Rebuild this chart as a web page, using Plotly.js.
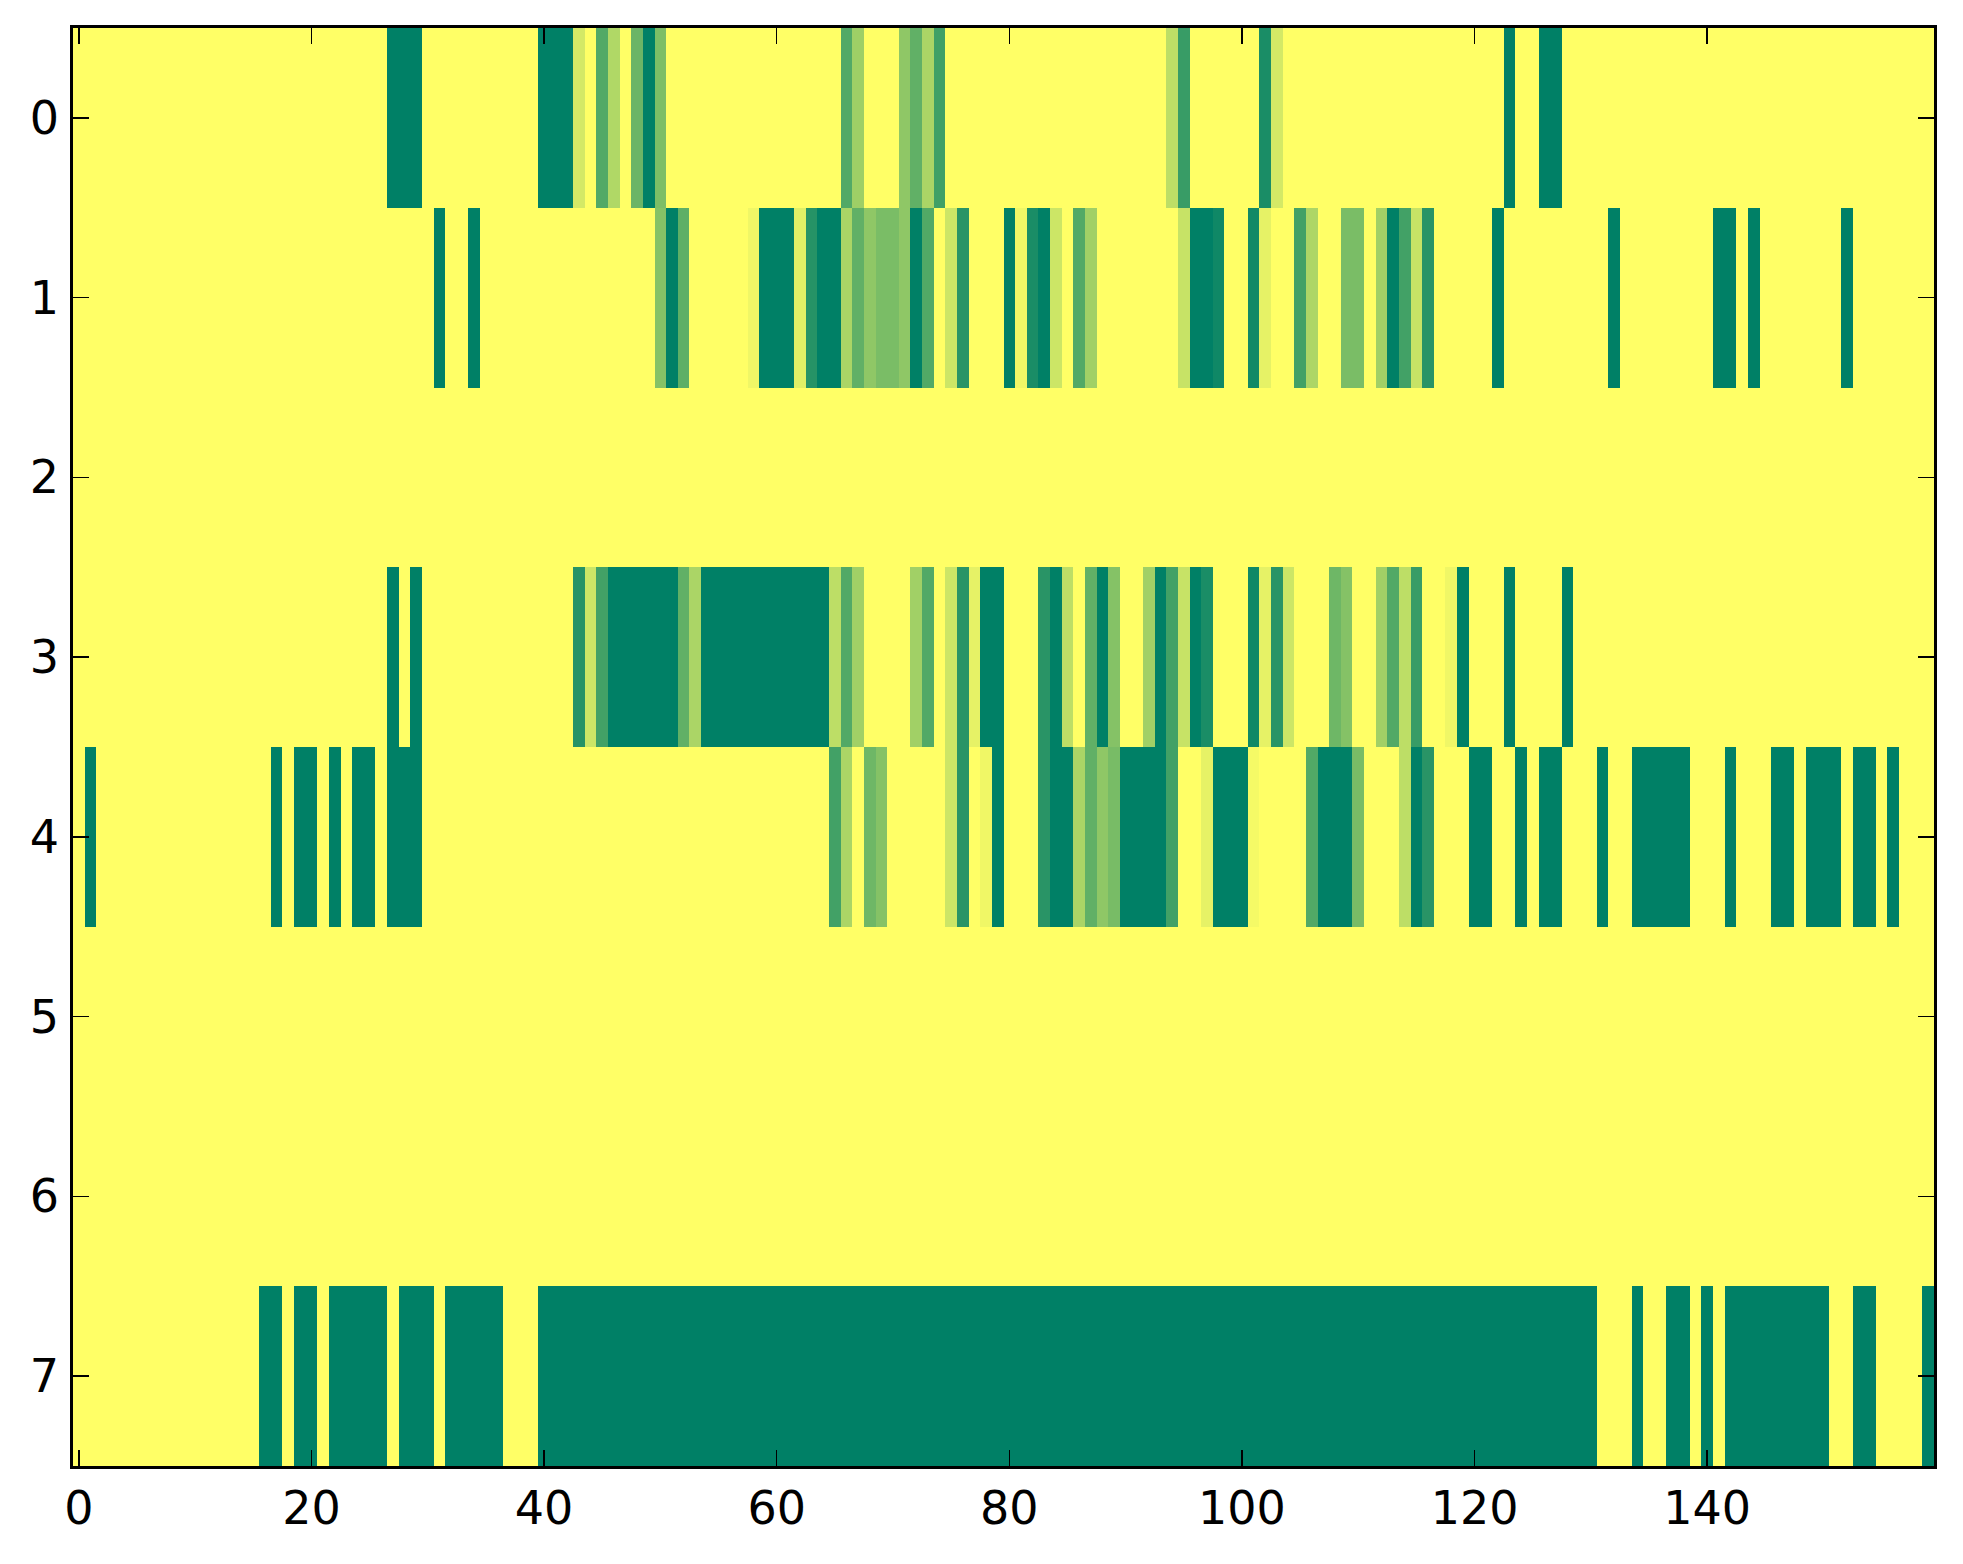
<!DOCTYPE html>
<html>
<head>
<meta charset="utf-8">
<script src="https://cdn.plot.ly/plotly-3.0.1.min.js"></script>
<style>
  html, body { margin: 0; padding: 0; background: #ffffff; }
  #chart { width: 1963px; height: 1564px; }
</style>
</head>
<body>
<div id="chart"></div>
<script>
// Row values (0 = dark green, 1 = yellow), 160 columns each
const row0 = [
  1,1,1,1,1,1,1,1,1,1,
  1,1,1,1,1,1,1,1,1,1,
  1,1,1,1,1,1,1,0,0,0,
  1,1,1,1,1,1,1,1,1,1,
  0,0,0,0.83,1,0.32,0.69,1,0.42,0,
  0.49,1,1,1,1,1,1,1,1,1,
  1,1,1,1,1,1,0.32,0.62,1,1,
  1,0.56,0.38,0.67,0.25,1,1,1,1,1,
  1,1,1,1,1,1,1,1,1,1,
  1,1,1,1,0.74,0.22,1,1,1,1,
  1,1,0.1,0.83,1,1,1,1,1,1,
  1,1,1,1,1,1,1,1,1,1,
  1,1,1,0,1,1,0,0,1,1,
  1,1,1,1,1,1,1,1,1,1,
  1,1,1,1,1,1,1,1,1,1,
  1,1,1,1,1,1,1,1,1,1
];
const row1 = [
  1,1,1,1,1,1,1,1,1,1,
  1,1,1,1,1,1,1,1,1,1,
  1,1,1,1,1,1,1,1,1,1,
  1,0,1,1,0,1,1,1,1,1,
  1,1,1,1,1,1,1,1,1,1,
  0.52,0,0.37,1,1,1,1,1,0.94,0,
  0,0,0.88,0.15,0,0,0.67,0.38,0.56,0.48,
  0.48,0.56,0,0.32,1,0.8,0.16,1,1,1,
  0,0.94,0.1,0,0.8,1,0.32,0.63,1,1,
  1,1,1,1,1,0.78,0,0,0.06,1,
  1,0.07,0.9,1,1,0.26,0.68,1,1,0.48,
  0.48,1,0.63,0,0.26,0.78,0.16,1,1,1,
  1,1,0,1,1,1,1,1,1,1,
  1,1,0,1,1,1,1,1,1,1,
  1,0,0,1,0,1,1,1,1,1,
  1,1,0,1,1,1,1,1,1,1
];
const row2 = [
  1,1,1,1,1,1,1,1,1,1,
  1,1,1,1,1,1,1,1,1,1,
  1,1,1,1,1,1,1,1,1,1,
  1,1,1,1,1,1,1,1,1,1,
  1,1,1,1,1,1,1,1,1,1,
  1,1,1,1,1,1,1,1,1,1,
  1,1,1,1,1,1,1,1,1,1,
  1,1,1,1,1,1,1,1,1,1,
  1,1,1,1,1,1,1,1,1,1,
  1,1,1,1,1,1,1,1,1,1,
  1,1,1,1,1,1,1,1,1,1,
  1,1,1,1,1,1,1,1,1,1,
  1,1,1,1,1,1,1,1,1,1,
  1,1,1,1,1,1,1,1,1,1,
  1,1,1,1,1,1,1,1,1,1,
  1,1,1,1,1,1,1,1,1,1
];
const row3 = [
  1,1,1,1,1,1,1,1,1,1,
  1,1,1,1,1,1,1,1,1,1,
  1,1,1,1,1,1,1,0,1,0,
  1,1,1,1,1,1,1,1,1,1,
  1,1,1,0.15,0.8,0.26,0,0,0,0,
  0,0,0.38,0.67,0,0,0,0,0,0,
  0,0,0,0,0,0.74,0.32,0.63,1,1,
  1,1,0.63,0.32,1,0.8,0.16,0.9,0,0,
  1,1,1,0.16,0,0.74,1,0.38,0,0.52,
  1,1,0.63,0,0.26,0.78,0,0.1,1,1,
  1,0.06,0.9,0.16,0.8,1,1,1,0.43,0.52,
  1,1,0.63,0.32,0.74,0.22,1,1,0.94,0,
  1,1,1,0,1,1,1,1,0,1,
  1,1,1,1,1,1,1,1,1,1,
  1,1,1,1,1,1,1,1,1,1,
  1,1,1,1,1,1,1,1,1,1
];
const row4 = [
  1,0,1,1,1,1,1,1,1,1,
  1,1,1,1,1,1,1,0,1,0,
  0,1,0,1,0,0,1,0,0,0,
  1,1,1,1,1,1,1,1,1,1,
  1,1,1,1,1,1,1,1,1,1,
  1,1,1,1,1,1,1,1,1,1,
  1,1,1,1,1,0.26,0.67,1,0.43,0.52,
  1,1,1,1,1,0.8,0.16,1,0.94,0,
  1,1,1,0.16,0,0,0.67,0.38,0.56,0.47,
  0,0,0,0,0.26,1,1,0.9,0,0,
  0,0.96,1,1,1,1,0.32,0,0,0,
  0.47,1,1,1,0.74,0,0.16,1,1,1,
  0,0,1,1,0,1,0,0,1,1,
  1,0,1,1,0,0,0,0,0,1,
  1,1,0,1,1,1,0,0,1,0,
  0,0,1,0,0,1,0,1,1,1
];
const row5 = [
  1,1,1,1,1,1,1,1,1,1,
  1,1,1,1,1,1,1,1,1,1,
  1,1,1,1,1,1,1,1,1,1,
  1,1,1,1,1,1,1,1,1,1,
  1,1,1,1,1,1,1,1,1,1,
  1,1,1,1,1,1,1,1,1,1,
  1,1,1,1,1,1,1,1,1,1,
  1,1,1,1,1,1,1,1,1,1,
  1,1,1,1,1,1,1,1,1,1,
  1,1,1,1,1,1,1,1,1,1,
  1,1,1,1,1,1,1,1,1,1,
  1,1,1,1,1,1,1,1,1,1,
  1,1,1,1,1,1,1,1,1,1,
  1,1,1,1,1,1,1,1,1,1,
  1,1,1,1,1,1,1,1,1,1,
  1,1,1,1,1,1,1,1,1,1
];
const row6 = [
  1,1,1,1,1,1,1,1,1,1,
  1,1,1,1,1,1,1,1,1,1,
  1,1,1,1,1,1,1,1,1,1,
  1,1,1,1,1,1,1,1,1,1,
  1,1,1,1,1,1,1,1,1,1,
  1,1,1,1,1,1,1,1,1,1,
  1,1,1,1,1,1,1,1,1,1,
  1,1,1,1,1,1,1,1,1,1,
  1,1,1,1,1,1,1,1,1,1,
  1,1,1,1,1,1,1,1,1,1,
  1,1,1,1,1,1,1,1,1,1,
  1,1,1,1,1,1,1,1,1,1,
  1,1,1,1,1,1,1,1,1,1,
  1,1,1,1,1,1,1,1,1,1,
  1,1,1,1,1,1,1,1,1,1,
  1,1,1,1,1,1,1,1,1,1
];
const row7 = [
  1,1,1,1,1,1,1,1,1,1,
  1,1,1,1,1,1,0,0,1,0,
  0,1,0,0,0,0,0,1,0,0,
  0,1,0,0,0,0,0,1,1,1,
  0,0,0,0,0,0,0,0,0,0,
  0,0,0,0,0,0,0,0,0,0,
  0,0,0,0,0,0,0,0,0,0,
  0,0,0,0,0,0,0,0,0,0,
  0,0,0,0,0,0,0,0,0,0,
  0,0,0,0,0,0,0,0,0,0,
  0,0,0,0,0,0,0,0,0,0,
  0,0,0,0,0,0,0,0,0,0,
  0,0,0,0,0,0,0,0,0,0,
  0,1,1,1,0,1,1,0,0,1,
  0,1,0,0,0,0,0,0,0,0,
  0,1,1,0,0,1,1,1,1,0
];

const xTickVals = [0, 20, 40, 60, 80, 100, 120, 140];
const xTickText = ["0", "20", "40", "60", "80", "100", "120", "140"];
const yTickVals = [0, 1, 2, 3, 4, 5, 6, 7];
const yTickText = ["0", "1", "2", "3", "4", "5", "6", "7"];

const z = [row0, row1, row2, row3, row4, row5, row6, row7];

const trace = {
  type: 'heatmap',
  z: z,
  colorscale: [[0, 'rgb(0,128,102)'], [1, 'rgb(255,255,102)']],
  zmin: 0,
  zmax: 1,
  zsmooth: false,
  showscale: false,
  hoverinfo: 'none'
};

const axisCommon = {
  showgrid: false,
  zeroline: false,
  showline: true,
  linecolor: '#000000',
  linewidth: 2.7,
  mirror: 'allticks',
  ticks: 'inside',
  ticklen: 16,
  tickwidth: 1.5,
  tickcolor: '#000000',
  tickfont: { family: 'DejaVu Sans', size: 46, color: '#000000' }
};

const layout = {
  width: 1963,
  height: 1564,
  margin: { l: 73, r: 29, t: 28, b: 98 },
  paper_bgcolor: '#ffffff',
  plot_bgcolor: '#ffffff',
  showlegend: false,
  xaxis: Object.assign({}, axisCommon, {
    range: [-0.5, 159.5],
    tickmode: 'array',
    tickvals: xTickVals,
    ticktext: xTickText,
    ticklabelstandoff: 0
  }),
  yaxis: Object.assign({}, axisCommon, {
    range: [7.5, -0.5],
    tickmode: 'array',
    tickvals: yTickVals,
    ticktext: yTickText,
    ticklabelstandoff: 2
  })
};

Plotly.newPlot('chart', [trace], layout, { displayModeBar: false, staticPlot: true });
</script>
</body>
</html>
